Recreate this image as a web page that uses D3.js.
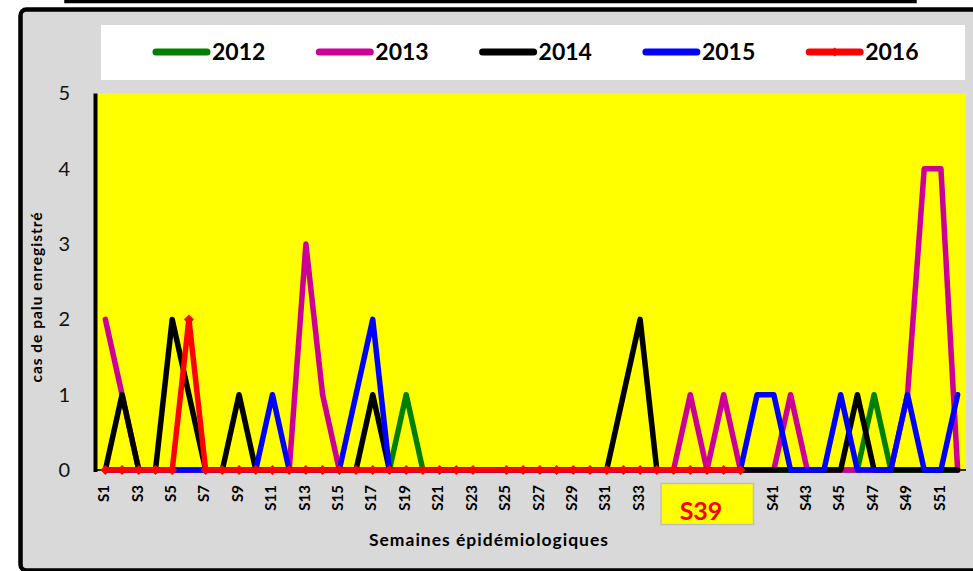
<!DOCTYPE html>
<html>
<head>
<meta charset="utf-8">
<script src="https://cdn.jsdelivr.net/npm/d3@7"></script>
<style>
  html, body { margin: 0; padding: 0; background: #ffffff; }
  svg { display: block; }
  text { font-family: Lato, "Open Sans", "Liberation Sans", sans-serif; }
</style>
</head>
<body>
<svg id="chart" width="973" height="571"></svg>
<script>
// Epidemiological weeks S1..S52
const weeks = d3.range(1, 53).map(i => "S" + i);

// Weekly malaria cases per year (index 0 = S1)
const cases2012 = [0,0,0,0,0,0,0,0,0,0, 0,0,0,0,0,0,0,0,1,0, 0,0,0,0,0,0,0,0,0,0, 0,0,0,0,0,0,0,0,0,0, 0,0,0,0,0,0,1,0,0,0, 0,0];
const cases2013 = [2,1,0,0,0,0,0,0,0,0, 0,0,3,1,0,0,0,0,0,0, 0,0,0,0,0,0,0,0,0,0, 0,0,0,0,0,1,0,1,0,0, 0,1,0,0,0,0,0,0,1,4, 4,0];
const cases2014 = [0,1,0,0,2,1,0,0,1,0, 0,0,0,0,0,0,1,0,0,0, 0,0,0,0,0,0,0,0,0,0, 0,1,2,0,0,0,0,0,0,0, 0,0,0,0,0,1,0,0,0,0, 0,0];
const cases2015 = [0,0,0,0,0,0,0,0,0,0, 1,0,0,0,0,1,2,0,0,0, 0,0,0,0,0,0,0,0,0,0, 0,0,0,0,0,0,0,0,0,1, 1,0,0,0,1,0,0,0,1,0, 0,1];
// 2016: reported up to S39, S24 missing
const cases2016 = [0,0,0,0,0,2,0,0,0,0, 0,0,0,0,0,0,0,0,0,0, 0,0,0,null,0,0,0,0,0,0, 0,0,0,0,0,0,0,0,0,null, null,null,null,null,null,null,null,null,null,null, null,null];

const seriesNames = ["2012", "2013", "2014", "2015", "2016"];
const seriesColors = ["#008000", "#cc0099", "#000000", "#0000ff", "#ff0000"];
const seriesValues = [cases2012, cases2013, cases2014, cases2015, cases2016];

const yTicks = [0, 1, 2, 3, 4, 5];
const xTickLabels = weeks.filter((w, i) => i % 2 === 0);
const highlightWeek = "S39";

const svg = d3.select("#chart");

// Title frame edge above the chart
svg.append("rect").attr("x", 66).attr("y", -20).attr("width", 849).attr("height", 21.5)
  .attr("fill", "#ffffff").attr("stroke", "#000").attr("stroke-width", 3.5);

// Chart area frame
svg.append("rect").attr("x", 20.5).attr("y", 9.5).attr("width", 1000).attr("height", 561)
  .attr("rx", 6).attr("fill", "#d9d9d9").attr("stroke", "#000").attr("stroke-width", 4.5);

const plot = { left: 97, right: 966, top: 93.5, bottom: 470 };

const x = d3.scalePoint().domain(weeks).range([plot.left, plot.right]).padding(0.5);
const y = d3.scaleLinear().domain([0, 5]).range([plot.bottom, plot.top]);

// Plot background
svg.append("rect").attr("x", plot.left).attr("y", plot.top)
  .attr("width", plot.right - plot.left).attr("height", plot.bottom - plot.top)
  .attr("fill", "#ffff00");

// Legend
const legend = svg.append("g");
legend.append("rect").attr("x", 101).attr("y", 25).attr("width", 864).attr("height", 55).attr("fill", "#ffffff");
seriesNames.forEach((name, i) => {
  const lx = 153 + i * 163.3;
  legend.append("line").attr("x1", lx + 3).attr("x2", lx + 54).attr("y1", 52).attr("y2", 52)
    .attr("stroke", seriesColors[i]).attr("stroke-width", 7).attr("stroke-linecap", "round");
  if (name === "2016") {
    legend.append("path").attr("d", "M0,-4.5L4.5,0L0,4.5L-4.5,0Z")
      .attr("transform", `translate(${lx + 28.5},52)`).attr("fill", seriesColors[i]);
  }
  legend.append("text").attr("x", lx + 59).attr("y", 60)
    .attr("font-size", 23).attr("font-weight", "bold").attr("fill", "#000").text(name);
});

// Y axis
const yAxis = svg.append("g").attr("transform", `translate(${plot.left},0)`)
  .call(d3.axisLeft(y).tickValues(yTicks).tickSize(0).tickPadding(27).tickFormat(d3.format("d")));
yAxis.select(".domain").remove();
yAxis.selectAll("text").attr("font-size", 20).attr("fill", "#111")
  .attr("font-family", "Lato, 'Open Sans', sans-serif");

// X axis
const xAxis = svg.append("g").attr("transform", `translate(0,${plot.bottom})`)
  .call(d3.axisBottom(x).tickValues(xTickLabels).tickSize(0));
xAxis.select(".domain").remove();
xAxis.selectAll("text")
  .attr("transform", "rotate(-90)")
  .attr("x", -15).attr("y", -2)
  .attr("dy", "0.35em")
  .attr("text-anchor", "end")
  .attr("font-size", 15).attr("font-weight", "bold").attr("fill", "#000")
  .attr("font-family", "Lato, 'Open Sans', sans-serif");

// Axis lines
svg.append("line").attr("x1", plot.left).attr("x2", plot.right).attr("y1", plot.bottom).attr("y2", plot.bottom)
  .attr("stroke", "#222").attr("stroke-width", 2);
svg.append("line").attr("x1", plot.left - 1.5).attr("x2", plot.left - 1.5).attr("y1", plot.top).attr("y2", plot.bottom + 2)
  .attr("stroke", "#000").attr("stroke-width", 4);

// Series lines, 2012 at the bottom, 2016 on top
const line = d3.line()
  .x(d => x(d.week))
  .y(d => y(d.value))
  .curve(d3.curveLinear);

seriesNames.forEach((name, i) => {
  const pts = weeks.map((w, j) => ({ week: w, value: seriesValues[i][j] }))
    .filter(d => d.value !== null && d.value !== undefined);
  svg.append("path").datum(pts)
    .attr("d", line)
    .attr("fill", "none")
    .attr("stroke", seriesColors[i])
    .attr("stroke-width", 5.5)
    .attr("stroke-linejoin", "round")
    .attr("stroke-linecap", "round");
  if (name === "2016") {
    svg.append("g").selectAll("path").data(pts).join("path")
      .attr("d", "M0,-5L5,0L0,5L-5,0Z")
      .attr("transform", d => `translate(${x(d.week)},${y(d.value)})`)
      .attr("fill", seriesColors[i]);
  }
});

// Highlighted current week
svg.append("rect").attr("x", 661).attr("y", 483.5).attr("width", 92.5).attr("height", 41)
  .attr("fill", "#ffff00").attr("stroke", "#bfbfbf").attr("stroke-width", 1.5);
svg.append("text").attr("x", 701).attr("y", 520).attr("text-anchor", "middle")
  .attr("font-size", 25).attr("font-weight", "bold").attr("fill", "#ff0000").text(highlightWeek);

// Axis titles
svg.append("text").attr("transform", "translate(42,297) rotate(-90)")
  .attr("text-anchor", "middle").attr("font-size", 15.5).attr("letter-spacing", 1)
  .attr("font-weight", "bold").attr("fill", "#000")
  .text("cas de palu enregistré");
svg.append("text").attr("x", 489).attr("y", 546)
  .attr("text-anchor", "middle").attr("font-size", 17.5).attr("letter-spacing", 1)
  .attr("font-weight", "bold").attr("fill", "#000")
  .text("Semaines épidémiologiques");
</script>
</body>
</html>
